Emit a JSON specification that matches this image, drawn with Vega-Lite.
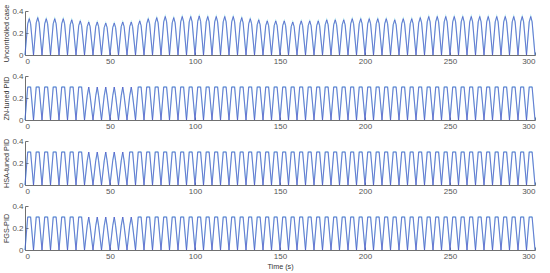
{
"$schema": "https://vega.github.io/schema/vega-lite/v6.json",
"padding": {"left": 2, "top": 4, "right": 4, "bottom": 1},
"spacing": 21,
"bounds": "flush",
"config": {
  "view": {"stroke": null},
  "font": "Liberation Sans",
  "axis": {"grid": false, "domainColor": "#707070", "tickColor": "#707070", "labelColor": "#555555", "labelFontSize": 8, "titleFontSize": 7.2, "titleFontWeight": "normal", "titleColor": "#333333", "tickSize": -3, "labelPadding": 5, "domainWidth": 1}
},
"datasets": {"d": [
{"t":0,"U":0,"Z":0,"H":0,"F":0},{"t":1.6,"U":0.284,"Z":0.3,"H":0.3,"F":0.3},{"t":2.5,"U":0.33,"Z":0.3,"H":0.3,"F":0.3},{"t":3.3,"U":0.284,"Z":0.3,"H":0.3,"F":0.3},
{"t":5,"U":0,"Z":0,"H":0,"F":0},{"t":6.6,"U":0.292,"Z":0.3,"H":0.3,"F":0.3},{"t":7.5,"U":0.34,"Z":0.3,"H":0.3,"F":0.3},{"t":8.3,"U":0.292,"Z":0.3,"H":0.3,"F":0.3},
{"t":10,"U":0,"Z":0,"H":0,"F":0},{"t":11.6,"U":0.284,"Z":0.3,"H":0.3,"F":0.3},{"t":12.5,"U":0.33,"Z":0.3,"H":0.3,"F":0.3},{"t":13.3,"U":0.284,"Z":0.3,"H":0.3,"F":0.3},
{"t":15,"U":0,"Z":0,"H":0,"F":0},{"t":16.6,"U":0.284,"Z":0.3,"H":0.3,"F":0.3},{"t":17.5,"U":0.33,"Z":0.3,"H":0.3,"F":0.3},{"t":18.3,"U":0.284,"Z":0.3,"H":0.3,"F":0.3},
{"t":20,"U":0,"Z":0,"H":0,"F":0},{"t":21.6,"U":0.284,"Z":0.3,"H":0.3,"F":0.3},{"t":22.5,"U":0.33,"Z":0.3,"H":0.3,"F":0.3},{"t":23.3,"U":0.284,"Z":0.3,"H":0.3,"F":0.3},
{"t":25,"U":0,"Z":0,"H":0,"F":0},{"t":26.6,"U":0.275,"Z":0.3,"H":0.3,"F":0.3},{"t":27.5,"U":0.32,"Z":0.3,"H":0.3,"F":0.3},{"t":28.3,"U":0.275,"Z":0.3,"H":0.3,"F":0.3},
{"t":30,"U":0,"Z":0,"H":0,"F":0},{"t":31.6,"U":0.267,"Z":0.3,"H":0.3,"F":0.3},{"t":32.5,"U":0.31,"Z":0.3,"H":0.3,"F":0.3},{"t":33.3,"U":0.267,"Z":0.3,"H":0.3,"F":0.3},
{"t":35,"U":0,"Z":0,"H":0,"F":0},{"t":36.6,"U":0.258,"Z":0.22,"H":0.22,"F":0.22},{"t":37.5,"U":0.3,"Z":0.3,"H":0.3,"F":0.3},{"t":38.3,"U":0.258,"Z":0.22,"H":0.22,"F":0.22},
{"t":40,"U":0,"Z":0,"H":0,"F":0},{"t":41.6,"U":0.258,"Z":0.22,"H":0.22,"F":0.22},{"t":42.5,"U":0.3,"Z":0.3,"H":0.3,"F":0.3},{"t":43.3,"U":0.258,"Z":0.22,"H":0.22,"F":0.22},
{"t":45,"U":0,"Z":0,"H":0,"F":0},{"t":46.6,"U":0.249,"Z":0.22,"H":0.22,"F":0.22},{"t":47.5,"U":0.29,"Z":0.3,"H":0.3,"F":0.3},{"t":48.3,"U":0.249,"Z":0.22,"H":0.22,"F":0.22},
{"t":50,"U":0,"Z":0,"H":0,"F":0},{"t":51.6,"U":0.249,"Z":0.22,"H":0.22,"F":0.22},{"t":52.5,"U":0.29,"Z":0.3,"H":0.3,"F":0.3},{"t":53.3,"U":0.249,"Z":0.22,"H":0.22,"F":0.22},
{"t":55,"U":0,"Z":0,"H":0,"F":0},{"t":56.6,"U":0.258,"Z":0.22,"H":0.22,"F":0.22},{"t":57.5,"U":0.3,"Z":0.3,"H":0.3,"F":0.3},{"t":58.3,"U":0.258,"Z":0.22,"H":0.22,"F":0.22},
{"t":60,"U":0,"Z":0,"H":0,"F":0},{"t":61.6,"U":0.258,"Z":0.22,"H":0.3,"F":0.22},{"t":62.5,"U":0.3,"Z":0.3,"H":0.3,"F":0.3},{"t":63.3,"U":0.258,"Z":0.22,"H":0.3,"F":0.22},
{"t":65,"U":0,"Z":0,"H":0,"F":0},{"t":66.6,"U":0.267,"Z":0.3,"H":0.3,"F":0.3},{"t":67.5,"U":0.31,"Z":0.3,"H":0.3,"F":0.3},{"t":68.3,"U":0.267,"Z":0.3,"H":0.3,"F":0.3},
{"t":70,"U":0,"Z":0,"H":0,"F":0},{"t":71.6,"U":0.284,"Z":0.3,"H":0.3,"F":0.3},{"t":72.5,"U":0.33,"Z":0.3,"H":0.3,"F":0.3},{"t":73.3,"U":0.284,"Z":0.3,"H":0.3,"F":0.3},
{"t":75,"U":0,"Z":0,"H":0,"F":0},{"t":76.6,"U":0.292,"Z":0.3,"H":0.3,"F":0.3},{"t":77.5,"U":0.34,"Z":0.3,"H":0.3,"F":0.3},{"t":78.3,"U":0.292,"Z":0.3,"H":0.3,"F":0.3},
{"t":80,"U":0,"Z":0,"H":0,"F":0},{"t":81.6,"U":0.301,"Z":0.3,"H":0.3,"F":0.3},{"t":82.5,"U":0.35,"Z":0.3,"H":0.3,"F":0.3},{"t":83.3,"U":0.301,"Z":0.3,"H":0.3,"F":0.3},
{"t":85,"U":0,"Z":0,"H":0,"F":0},{"t":86.6,"U":0.292,"Z":0.3,"H":0.3,"F":0.3},{"t":87.5,"U":0.34,"Z":0.3,"H":0.3,"F":0.3},{"t":88.3,"U":0.292,"Z":0.3,"H":0.3,"F":0.3},
{"t":90,"U":0,"Z":0,"H":0,"F":0},{"t":91.6,"U":0.301,"Z":0.3,"H":0.3,"F":0.3},{"t":92.5,"U":0.35,"Z":0.3,"H":0.3,"F":0.3},{"t":93.3,"U":0.301,"Z":0.3,"H":0.3,"F":0.3},
{"t":95,"U":0,"Z":0,"H":0,"F":0},{"t":96.6,"U":0.301,"Z":0.3,"H":0.3,"F":0.3},{"t":97.5,"U":0.35,"Z":0.3,"H":0.3,"F":0.3},{"t":98.3,"U":0.301,"Z":0.3,"H":0.3,"F":0.3},
{"t":100,"U":0,"Z":0,"H":0,"F":0},{"t":101.6,"U":0.305,"Z":0.3,"H":0.3,"F":0.3},{"t":102.5,"U":0.355,"Z":0.3,"H":0.3,"F":0.3},{"t":103.3,"U":0.305,"Z":0.3,"H":0.3,"F":0.3},
{"t":105,"U":0,"Z":0,"H":0,"F":0},{"t":106.6,"U":0.301,"Z":0.3,"H":0.3,"F":0.3},{"t":107.5,"U":0.35,"Z":0.3,"H":0.3,"F":0.3},{"t":108.3,"U":0.301,"Z":0.3,"H":0.3,"F":0.3},
{"t":110,"U":0,"Z":0,"H":0,"F":0},{"t":111.6,"U":0.301,"Z":0.3,"H":0.3,"F":0.3},{"t":112.5,"U":0.35,"Z":0.3,"H":0.3,"F":0.3},{"t":113.3,"U":0.301,"Z":0.3,"H":0.3,"F":0.3},
{"t":115,"U":0,"Z":0,"H":0,"F":0},{"t":116.6,"U":0.301,"Z":0.3,"H":0.3,"F":0.3},{"t":117.5,"U":0.35,"Z":0.3,"H":0.3,"F":0.3},{"t":118.3,"U":0.301,"Z":0.3,"H":0.3,"F":0.3},
{"t":120,"U":0,"Z":0,"H":0,"F":0},{"t":121.6,"U":0.301,"Z":0.3,"H":0.3,"F":0.3},{"t":122.5,"U":0.35,"Z":0.3,"H":0.3,"F":0.3},{"t":123.3,"U":0.301,"Z":0.3,"H":0.3,"F":0.3},
{"t":125,"U":0,"Z":0,"H":0,"F":0},{"t":126.6,"U":0.292,"Z":0.3,"H":0.3,"F":0.3},{"t":127.5,"U":0.34,"Z":0.3,"H":0.3,"F":0.3},{"t":128.3,"U":0.292,"Z":0.3,"H":0.3,"F":0.3},
{"t":130,"U":0,"Z":0,"H":0,"F":0},{"t":131.6,"U":0.284,"Z":0.3,"H":0.3,"F":0.3},{"t":132.5,"U":0.33,"Z":0.3,"H":0.3,"F":0.3},{"t":133.3,"U":0.284,"Z":0.3,"H":0.3,"F":0.3},
{"t":135,"U":0,"Z":0,"H":0,"F":0},{"t":136.6,"U":0.275,"Z":0.3,"H":0.3,"F":0.3},{"t":137.5,"U":0.32,"Z":0.3,"H":0.3,"F":0.3},{"t":138.3,"U":0.275,"Z":0.3,"H":0.3,"F":0.3},
{"t":140,"U":0,"Z":0,"H":0,"F":0},{"t":141.6,"U":0.267,"Z":0.3,"H":0.3,"F":0.3},{"t":142.5,"U":0.31,"Z":0.3,"H":0.3,"F":0.3},{"t":143.3,"U":0.267,"Z":0.3,"H":0.3,"F":0.3},
{"t":145,"U":0,"Z":0,"H":0,"F":0},{"t":146.6,"U":0.267,"Z":0.3,"H":0.3,"F":0.3},{"t":147.5,"U":0.31,"Z":0.3,"H":0.3,"F":0.3},{"t":148.3,"U":0.267,"Z":0.3,"H":0.3,"F":0.3},
{"t":150,"U":0,"Z":0,"H":0,"F":0},{"t":151.6,"U":0.267,"Z":0.3,"H":0.3,"F":0.3},{"t":152.5,"U":0.31,"Z":0.3,"H":0.3,"F":0.3},{"t":153.3,"U":0.267,"Z":0.3,"H":0.3,"F":0.3},
{"t":155,"U":0,"Z":0,"H":0,"F":0},{"t":156.6,"U":0.258,"Z":0.3,"H":0.3,"F":0.3},{"t":157.5,"U":0.3,"Z":0.3,"H":0.3,"F":0.3},{"t":158.3,"U":0.258,"Z":0.3,"H":0.3,"F":0.3},
{"t":160,"U":0,"Z":0,"H":0,"F":0},{"t":161.6,"U":0.267,"Z":0.3,"H":0.3,"F":0.3},{"t":162.5,"U":0.31,"Z":0.3,"H":0.3,"F":0.3},{"t":163.3,"U":0.267,"Z":0.3,"H":0.3,"F":0.3},
{"t":165,"U":0,"Z":0,"H":0,"F":0},{"t":166.6,"U":0.267,"Z":0.3,"H":0.3,"F":0.3},{"t":167.5,"U":0.31,"Z":0.3,"H":0.3,"F":0.3},{"t":168.3,"U":0.267,"Z":0.3,"H":0.3,"F":0.3},
{"t":170,"U":0,"Z":0,"H":0,"F":0},{"t":171.6,"U":0.267,"Z":0.3,"H":0.3,"F":0.3},{"t":172.5,"U":0.31,"Z":0.3,"H":0.3,"F":0.3},{"t":173.3,"U":0.267,"Z":0.3,"H":0.3,"F":0.3},
{"t":175,"U":0,"Z":0,"H":0,"F":0},{"t":176.6,"U":0.275,"Z":0.3,"H":0.3,"F":0.3},{"t":177.5,"U":0.32,"Z":0.3,"H":0.3,"F":0.3},{"t":178.3,"U":0.275,"Z":0.3,"H":0.3,"F":0.3},
{"t":180,"U":0,"Z":0,"H":0,"F":0},{"t":181.6,"U":0.275,"Z":0.3,"H":0.3,"F":0.3},{"t":182.5,"U":0.32,"Z":0.3,"H":0.3,"F":0.3},{"t":183.3,"U":0.275,"Z":0.3,"H":0.3,"F":0.3},
{"t":185,"U":0,"Z":0,"H":0,"F":0},{"t":186.6,"U":0.275,"Z":0.3,"H":0.3,"F":0.3},{"t":187.5,"U":0.32,"Z":0.3,"H":0.3,"F":0.3},{"t":188.3,"U":0.275,"Z":0.3,"H":0.3,"F":0.3},
{"t":190,"U":0,"Z":0,"H":0,"F":0},{"t":191.6,"U":0.284,"Z":0.3,"H":0.3,"F":0.3},{"t":192.5,"U":0.33,"Z":0.3,"H":0.3,"F":0.3},{"t":193.3,"U":0.284,"Z":0.3,"H":0.3,"F":0.3},
{"t":195,"U":0,"Z":0,"H":0,"F":0},{"t":196.6,"U":0.284,"Z":0.3,"H":0.3,"F":0.3},{"t":197.5,"U":0.33,"Z":0.3,"H":0.3,"F":0.3},{"t":198.3,"U":0.284,"Z":0.3,"H":0.3,"F":0.3},
{"t":200,"U":0,"Z":0,"H":0,"F":0},{"t":201.6,"U":0.284,"Z":0.3,"H":0.3,"F":0.3},{"t":202.5,"U":0.33,"Z":0.3,"H":0.3,"F":0.3},{"t":203.3,"U":0.284,"Z":0.3,"H":0.3,"F":0.3},
{"t":205,"U":0,"Z":0,"H":0,"F":0},{"t":206.6,"U":0.284,"Z":0.3,"H":0.3,"F":0.3},{"t":207.5,"U":0.33,"Z":0.3,"H":0.3,"F":0.3},{"t":208.3,"U":0.284,"Z":0.3,"H":0.3,"F":0.3},
{"t":210,"U":0,"Z":0,"H":0,"F":0},{"t":211.6,"U":0.284,"Z":0.3,"H":0.3,"F":0.3},{"t":212.5,"U":0.33,"Z":0.3,"H":0.3,"F":0.3},{"t":213.3,"U":0.284,"Z":0.3,"H":0.3,"F":0.3},
{"t":215,"U":0,"Z":0,"H":0,"F":0},{"t":216.6,"U":0.275,"Z":0.3,"H":0.3,"F":0.3},{"t":217.5,"U":0.32,"Z":0.3,"H":0.3,"F":0.3},{"t":218.3,"U":0.275,"Z":0.3,"H":0.3,"F":0.3},
{"t":220,"U":0,"Z":0,"H":0,"F":0},{"t":221.6,"U":0.284,"Z":0.3,"H":0.3,"F":0.3},{"t":222.5,"U":0.33,"Z":0.3,"H":0.3,"F":0.3},{"t":223.3,"U":0.284,"Z":0.3,"H":0.3,"F":0.3},
{"t":225,"U":0,"Z":0,"H":0,"F":0},{"t":226.6,"U":0.284,"Z":0.3,"H":0.3,"F":0.3},{"t":227.5,"U":0.33,"Z":0.3,"H":0.3,"F":0.3},{"t":228.3,"U":0.284,"Z":0.3,"H":0.3,"F":0.3},
{"t":230,"U":0,"Z":0,"H":0,"F":0},{"t":231.6,"U":0.292,"Z":0.3,"H":0.3,"F":0.3},{"t":232.5,"U":0.34,"Z":0.3,"H":0.3,"F":0.3},{"t":233.3,"U":0.292,"Z":0.3,"H":0.3,"F":0.3},
{"t":235,"U":0,"Z":0,"H":0,"F":0},{"t":236.6,"U":0.301,"Z":0.3,"H":0.3,"F":0.3},{"t":237.5,"U":0.35,"Z":0.3,"H":0.3,"F":0.3},{"t":238.3,"U":0.301,"Z":0.3,"H":0.3,"F":0.3},
{"t":240,"U":0,"Z":0,"H":0,"F":0},{"t":241.6,"U":0.301,"Z":0.3,"H":0.3,"F":0.3},{"t":242.5,"U":0.35,"Z":0.3,"H":0.3,"F":0.3},{"t":243.3,"U":0.301,"Z":0.3,"H":0.3,"F":0.3},
{"t":245,"U":0,"Z":0,"H":0,"F":0},{"t":246.6,"U":0.301,"Z":0.3,"H":0.3,"F":0.3},{"t":247.5,"U":0.35,"Z":0.3,"H":0.3,"F":0.3},{"t":248.3,"U":0.301,"Z":0.3,"H":0.3,"F":0.3},
{"t":250,"U":0,"Z":0,"H":0,"F":0},{"t":251.6,"U":0.301,"Z":0.3,"H":0.3,"F":0.3},{"t":252.5,"U":0.35,"Z":0.3,"H":0.3,"F":0.3},{"t":253.3,"U":0.301,"Z":0.3,"H":0.3,"F":0.3},
{"t":255,"U":0,"Z":0,"H":0,"F":0},{"t":256.6,"U":0.301,"Z":0.3,"H":0.3,"F":0.3},{"t":257.5,"U":0.35,"Z":0.3,"H":0.3,"F":0.3},{"t":258.3,"U":0.301,"Z":0.3,"H":0.3,"F":0.3},
{"t":260,"U":0,"Z":0,"H":0,"F":0},{"t":261.6,"U":0.301,"Z":0.3,"H":0.3,"F":0.3},{"t":262.5,"U":0.35,"Z":0.3,"H":0.3,"F":0.3},{"t":263.3,"U":0.301,"Z":0.3,"H":0.3,"F":0.3},
{"t":265,"U":0,"Z":0,"H":0,"F":0},{"t":266.6,"U":0.301,"Z":0.3,"H":0.3,"F":0.3},{"t":267.5,"U":0.35,"Z":0.3,"H":0.3,"F":0.3},{"t":268.3,"U":0.301,"Z":0.3,"H":0.3,"F":0.3},
{"t":270,"U":0,"Z":0,"H":0,"F":0},{"t":271.6,"U":0.301,"Z":0.3,"H":0.3,"F":0.3},{"t":272.5,"U":0.35,"Z":0.3,"H":0.3,"F":0.3},{"t":273.3,"U":0.301,"Z":0.3,"H":0.3,"F":0.3},
{"t":275,"U":0,"Z":0,"H":0,"F":0},{"t":276.6,"U":0.301,"Z":0.3,"H":0.3,"F":0.3},{"t":277.5,"U":0.35,"Z":0.3,"H":0.3,"F":0.3},{"t":278.3,"U":0.301,"Z":0.3,"H":0.3,"F":0.3},
{"t":280,"U":0,"Z":0,"H":0,"F":0},{"t":281.6,"U":0.301,"Z":0.3,"H":0.3,"F":0.3},{"t":282.5,"U":0.35,"Z":0.3,"H":0.3,"F":0.3},{"t":283.3,"U":0.301,"Z":0.3,"H":0.3,"F":0.3},
{"t":285,"U":0,"Z":0,"H":0,"F":0},{"t":286.6,"U":0.301,"Z":0.3,"H":0.3,"F":0.3},{"t":287.5,"U":0.35,"Z":0.3,"H":0.3,"F":0.3},{"t":288.3,"U":0.301,"Z":0.3,"H":0.3,"F":0.3},
{"t":290,"U":0,"Z":0,"H":0,"F":0},{"t":291.6,"U":0.301,"Z":0.3,"H":0.3,"F":0.3},{"t":292.5,"U":0.35,"Z":0.3,"H":0.3,"F":0.3},{"t":293.3,"U":0.301,"Z":0.3,"H":0.3,"F":0.3},
{"t":295,"U":0,"Z":0,"H":0,"F":0},{"t":296.6,"U":0.301,"Z":0.3,"H":0.3,"F":0.3},{"t":297.5,"U":0.35,"Z":0.3,"H":0.3,"F":0.3},{"t":298.3,"U":0.301,"Z":0.3,"H":0.3,"F":0.3},
{"t":300,"U":0,"Z":0,"H":0,"F":0}
]},
"data": {"name": "d"},
"vconcat": [
 {"width": 510, "height": 44,
  "encoding": {
   "x": {"field": "t", "type": "quantitative", "scale": {"domain": [0, 300], "nice": false}, "axis": {"values": [0,50,100,150,200,250,300], "title": null}},
   "y": {"field": "U", "type": "quantitative", "scale": {"domain": [0, 0.4], "nice": false}, "axis": {"values": [0,0.2,0.4], "format": "~g", "title": "Uncontrolled case", "titlePadding": 1}}
  },
  "layer": [
   {"mark": {"type": "line", "color": "#3cc8d8", "strokeWidth": 1.3, "opacity": 0.45}},
   {"mark": {"type": "line", "color": "#5252c8", "strokeWidth": 0.75}}
  ]},
 {"width": 510, "height": 44,
  "encoding": {
   "x": {"field": "t", "type": "quantitative", "scale": {"domain": [0, 300], "nice": false}, "axis": {"values": [0,50,100,150,200,250,300], "title": null}},
   "y": {"field": "Z", "type": "quantitative", "scale": {"domain": [0, 0.4], "nice": false}, "axis": {"values": [0,0.2,0.4], "format": "~g", "title": "ZN-tuned PID", "titlePadding": 1}}
  },
  "layer": [
   {"mark": {"type": "line", "color": "#3cc8d8", "strokeWidth": 1.3, "opacity": 0.45}},
   {"mark": {"type": "line", "color": "#5252c8", "strokeWidth": 0.75}}
  ]},
 {"width": 510, "height": 44,
  "encoding": {
   "x": {"field": "t", "type": "quantitative", "scale": {"domain": [0, 300], "nice": false}, "axis": {"values": [0,50,100,150,200,250,300], "title": null}},
   "y": {"field": "H", "type": "quantitative", "scale": {"domain": [0, 0.4], "nice": false}, "axis": {"values": [0,0.2,0.4], "format": "~g", "title": "HSA-tuned PID", "titlePadding": 1}}
  },
  "layer": [
   {"mark": {"type": "line", "color": "#3cc8d8", "strokeWidth": 1.3, "opacity": 0.45}},
   {"mark": {"type": "line", "color": "#5252c8", "strokeWidth": 0.75}}
  ]},
 {"width": 510, "height": 44,
  "encoding": {
   "x": {"field": "t", "type": "quantitative", "scale": {"domain": [0, 300], "nice": false}, "axis": {"values": [0,50,100,150,200,250,300], "title": "Time (s)", "titlePadding": 2}},
   "y": {"field": "F", "type": "quantitative", "scale": {"domain": [0, 0.4], "nice": false}, "axis": {"values": [0,0.2,0.4], "format": "~g", "title": "FGS-PID", "titlePadding": 1}}
  },
  "layer": [
   {"mark": {"type": "line", "color": "#3cc8d8", "strokeWidth": 1.3, "opacity": 0.45}},
   {"mark": {"type": "line", "color": "#5252c8", "strokeWidth": 0.75}}
  ]}
]
}
